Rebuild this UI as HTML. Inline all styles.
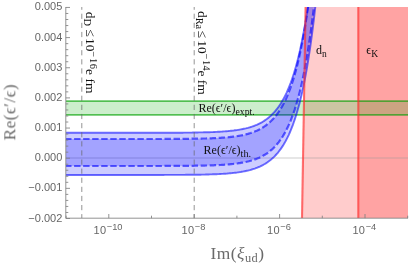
<!DOCTYPE html>
<html><head><meta charset="utf-8"><title>chart</title><style>
html,body{margin:0;padding:0;background:#fff;}
svg{display:block;will-change:transform}
.sans{font-family:"Liberation Sans",sans-serif;}
.serif{font-family:"Liberation Serif",serif;}
</style></head><body>
<svg width="409" height="266" viewBox="0 0 409 266">
<rect width="409" height="266" fill="#fff"/>
<defs><clipPath id="c"><rect x="65.8" y="7.0" width="342.2" height="211.2"/></clipPath></defs>
<g clip-path="url(#c)">
<!-- red fills -->
<path d="M305.6,7.0 L408.0,7.0 L408.0,218.2 L302,218.2Z" fill="#ff0000" fill-opacity="0.2"/>
<rect x="358.3" y="7.0" width="49.69999999999999" height="211.2" fill="#ff0000" fill-opacity="0.2"/>
<!-- zero line -->
<line x1="65.8" y1="158.0" x2="408.0" y2="158.0" stroke="#999" stroke-opacity="0.55" stroke-width="0.9"/>
<!-- green band -->
<rect x="65.8" y="101.1" width="342.2" height="13.7" fill="#00aa00" fill-opacity="0.2"/>
<line x1="65.8" y1="101.1" x2="408.0" y2="101.1" stroke="#00a000" stroke-opacity="0.62" stroke-width="1.7"/>
<line x1="65.8" y1="114.8" x2="408.0" y2="114.8" stroke="#00a000" stroke-opacity="0.62" stroke-width="1.7"/>
<!-- blue bands -->
<path d="M65.8,132.8 L66.8,132.8 L67.8,132.8 L68.8,132.8 L69.8,132.8 L70.8,132.8 L71.8,132.8 L72.8,132.8 L73.8,132.8 L74.8,132.8 L75.8,132.8 L76.8,132.8 L77.8,132.8 L78.8,132.8 L79.8,132.8 L80.8,132.8 L81.8,132.8 L82.8,132.8 L83.8,132.8 L84.8,132.8 L85.8,132.8 L86.8,132.8 L87.8,132.8 L88.8,132.8 L89.8,132.8 L90.8,132.8 L91.8,132.8 L92.8,132.8 L93.8,132.8 L94.8,132.8 L95.8,132.8 L96.8,132.8 L97.8,132.8 L98.8,132.8 L99.8,132.8 L100.8,132.8 L101.8,132.8 L102.8,132.8 L103.8,132.8 L104.8,132.8 L105.8,132.8 L106.8,132.8 L107.8,132.8 L108.8,132.8 L109.8,132.8 L110.8,132.8 L111.8,132.8 L112.8,132.8 L113.8,132.8 L114.8,132.8 L115.8,132.8 L116.8,132.8 L117.8,132.8 L118.8,132.8 L119.8,132.8 L120.8,132.8 L121.8,132.8 L122.8,132.8 L123.8,132.8 L124.8,132.8 L125.8,132.8 L126.8,132.8 L127.8,132.8 L128.8,132.8 L129.8,132.8 L130.8,132.8 L131.8,132.8 L132.8,132.8 L133.8,132.8 L134.8,132.8 L135.8,132.8 L136.8,132.8 L137.8,132.8 L138.8,132.8 L139.8,132.8 L140.8,132.8 L141.8,132.8 L142.8,132.8 L143.8,132.8 L144.8,132.8 L145.8,132.8 L146.8,132.8 L147.8,132.8 L148.8,132.8 L149.8,132.8 L150.8,132.8 L151.8,132.8 L152.8,132.8 L153.8,132.8 L154.8,132.8 L155.8,132.8 L156.8,132.8 L157.8,132.8 L158.8,132.8 L159.8,132.8 L160.8,132.8 L161.8,132.8 L162.8,132.7 L163.8,132.7 L164.8,132.7 L165.8,132.7 L166.8,132.7 L167.8,132.7 L168.8,132.7 L169.8,132.7 L170.8,132.7 L171.8,132.7 L172.8,132.7 L173.8,132.7 L174.8,132.7 L175.8,132.7 L176.8,132.7 L177.8,132.7 L178.8,132.7 L179.8,132.7 L180.8,132.7 L181.8,132.7 L182.8,132.7 L183.8,132.6 L184.8,132.6 L185.8,132.6 L186.8,132.6 L187.8,132.6 L188.8,132.6 L189.8,132.6 L190.8,132.6 L191.8,132.6 L192.8,132.5 L193.8,132.5 L194.8,132.5 L195.8,132.5 L196.8,132.5 L197.8,132.5 L198.8,132.4 L199.8,132.4 L200.8,132.4 L201.8,132.4 L202.8,132.4 L203.8,132.3 L204.8,132.3 L205.8,132.3 L206.8,132.3 L207.8,132.2 L208.8,132.2 L209.8,132.2 L210.8,132.1 L211.8,132.1 L212.8,132.1 L213.8,132.0 L214.8,132.0 L215.8,131.9 L216.8,131.9 L217.8,131.8 L218.8,131.8 L219.8,131.7 L220.8,131.6 L221.8,131.6 L222.8,131.5 L223.8,131.4 L224.8,131.4 L225.8,131.3 L226.8,131.2 L227.8,131.1 L228.8,131.0 L229.8,130.9 L230.8,130.8 L231.8,130.7 L232.8,130.6 L233.8,130.5 L234.8,130.3 L235.8,130.2 L236.8,130.1 L237.8,129.9 L238.8,129.8 L239.8,129.6 L240.8,129.4 L241.8,129.2 L242.8,129.0 L243.8,128.8 L244.8,128.6 L245.8,128.4 L246.8,128.1 L247.8,127.9 L248.8,127.6 L249.8,127.3 L250.8,127.0 L251.8,126.7 L252.8,126.3 L253.8,126.0 L254.8,125.6 L255.8,125.2 L256.8,124.8 L257.8,124.3 L258.8,123.8 L259.8,123.3 L260.8,122.8 L261.8,122.3 L262.8,121.7 L263.8,121.1 L264.8,120.4 L265.8,119.7 L266.8,119.0 L267.8,118.2 L268.8,117.4 L269.8,116.6 L270.8,115.7 L271.8,114.7 L272.8,113.7 L273.8,112.7 L274.8,111.6 L275.8,110.4 L276.8,109.2 L277.8,107.8 L278.8,106.5 L279.8,105.0 L280.8,103.5 L281.8,101.8 L282.8,100.1 L283.8,98.3 L284.8,96.4 L285.8,94.4 L286.8,92.3 L287.8,90.0 L288.8,87.6 L289.8,85.1 L290.8,82.5 L291.8,79.7 L292.8,76.8 L293.8,73.7 L294.8,70.4 L295.8,66.9 L296.8,63.3 L297.8,59.4 L298.8,55.4 L299.8,51.1 L300.8,46.5 L301.8,41.8 L302.8,36.7 L303.8,31.4 L304.8,25.8 L305.8,19.8 L306.8,13.6 L307.8,7.0 L308.8,0.0 L309.8,-7.3 L310.8,-15.1 L317.8,-17.2 L316.8,-7.1 L315.8,2.4 L314.8,11.5 L313.8,20.1 L312.8,28.2 L311.8,35.9 L310.8,43.2 L309.8,50.1 L308.8,56.7 L307.8,62.9 L306.8,68.8 L305.8,74.4 L304.8,79.6 L303.8,84.7 L302.8,89.4 L301.8,93.9 L300.8,98.1 L299.8,102.2 L298.8,106.0 L297.8,109.6 L296.8,113.1 L295.8,116.3 L294.8,119.4 L293.8,122.3 L292.8,125.1 L291.8,127.7 L290.8,130.2 L289.8,132.5 L288.8,134.8 L287.8,136.9 L286.8,138.9 L285.8,140.8 L284.8,142.6 L283.8,144.3 L282.8,145.9 L281.8,147.4 L280.8,148.9 L279.8,150.2 L278.8,151.5 L277.8,152.8 L276.8,153.9 L275.8,155.0 L274.8,156.1 L273.8,157.1 L272.8,158.0 L271.8,158.9 L270.8,159.8 L269.8,160.6 L268.8,161.3 L267.8,162.0 L266.8,162.7 L265.8,163.4 L264.8,164.0 L263.8,164.5 L262.8,165.1 L261.8,165.6 L260.8,166.1 L259.8,166.6 L258.8,167.0 L257.8,167.4 L256.8,167.8 L255.8,168.2 L254.8,168.6 L253.8,168.9 L252.8,169.2 L251.8,169.5 L250.8,169.8 L249.8,170.1 L248.8,170.3 L247.8,170.6 L246.8,170.8 L245.8,171.0 L244.8,171.2 L243.8,171.4 L242.8,171.6 L241.8,171.8 L240.8,172.0 L239.8,172.1 L238.8,172.3 L237.8,172.4 L236.8,172.6 L235.8,172.7 L234.8,172.8 L233.8,172.9 L232.8,173.0 L231.8,173.1 L230.8,173.2 L229.8,173.3 L228.8,173.4 L227.8,173.5 L226.8,173.6 L225.8,173.7 L224.8,173.7 L223.8,173.8 L222.8,173.9 L221.8,173.9 L220.8,174.0 L219.8,174.0 L218.8,174.1 L217.8,174.1 L216.8,174.2 L215.8,174.2 L214.8,174.3 L213.8,174.3 L212.8,174.3 L211.8,174.4 L210.8,174.4 L209.8,174.4 L208.8,174.5 L207.8,174.5 L206.8,174.5 L205.8,174.5 L204.8,174.6 L203.8,174.6 L202.8,174.6 L201.8,174.6 L200.8,174.7 L199.8,174.7 L198.8,174.7 L197.8,174.7 L196.8,174.7 L195.8,174.7 L194.8,174.7 L193.8,174.8 L192.8,174.8 L191.8,174.8 L190.8,174.8 L189.8,174.8 L188.8,174.8 L187.8,174.8 L186.8,174.8 L185.8,174.8 L184.8,174.9 L183.8,174.9 L182.8,174.9 L181.8,174.9 L180.8,174.9 L179.8,174.9 L178.8,174.9 L177.8,174.9 L176.8,174.9 L175.8,174.9 L174.8,174.9 L173.8,174.9 L172.8,174.9 L171.8,174.9 L170.8,174.9 L169.8,174.9 L168.8,174.9 L167.8,174.9 L166.8,174.9 L165.8,174.9 L164.8,174.9 L163.8,175.0 L162.8,175.0 L161.8,175.0 L160.8,175.0 L159.8,175.0 L158.8,175.0 L157.8,175.0 L156.8,175.0 L155.8,175.0 L154.8,175.0 L153.8,175.0 L152.8,175.0 L151.8,175.0 L150.8,175.0 L149.8,175.0 L148.8,175.0 L147.8,175.0 L146.8,175.0 L145.8,175.0 L144.8,175.0 L143.8,175.0 L142.8,175.0 L141.8,175.0 L140.8,175.0 L139.8,175.0 L138.8,175.0 L137.8,175.0 L136.8,175.0 L135.8,175.0 L134.8,175.0 L133.8,175.0 L132.8,175.0 L131.8,175.0 L130.8,175.0 L129.8,175.0 L128.8,175.0 L127.8,175.0 L126.8,175.0 L125.8,175.0 L124.8,175.0 L123.8,175.0 L122.8,175.0 L121.8,175.0 L120.8,175.0 L119.8,175.0 L118.8,175.0 L117.8,175.0 L116.8,175.0 L115.8,175.0 L114.8,175.0 L113.8,175.0 L112.8,175.0 L111.8,175.0 L110.8,175.0 L109.8,175.0 L108.8,175.0 L107.8,175.0 L106.8,175.0 L105.8,175.0 L104.8,175.0 L103.8,175.0 L102.8,175.0 L101.8,175.0 L100.8,175.0 L99.8,175.0 L98.8,175.0 L97.8,175.0 L96.8,175.0 L95.8,175.0 L94.8,175.0 L93.8,175.0 L92.8,175.0 L91.8,175.0 L90.8,175.0 L89.8,175.0 L88.8,175.0 L87.8,175.0 L86.8,175.0 L85.8,175.0 L84.8,175.0 L83.8,175.0 L82.8,175.0 L81.8,175.0 L80.8,175.0 L79.8,175.0 L78.8,175.0 L77.8,175.0 L76.8,175.0 L75.8,175.0 L74.8,175.0 L73.8,175.0 L72.8,175.0 L71.8,175.0 L70.8,175.0 L69.8,175.0 L68.8,175.0 L67.8,175.0 L66.8,175.0 L65.8,175.0Z" fill="#0000ff" fill-opacity="0.2"/>
<path d="M65.8,139.0 L66.8,139.0 L67.8,139.0 L68.8,139.0 L69.8,139.0 L70.8,139.0 L71.8,139.0 L72.8,139.0 L73.8,139.0 L74.8,139.0 L75.8,139.0 L76.8,139.0 L77.8,139.0 L78.8,139.0 L79.8,139.0 L80.8,139.0 L81.8,139.0 L82.8,139.0 L83.8,139.0 L84.8,139.0 L85.8,139.0 L86.8,139.0 L87.8,139.0 L88.8,139.0 L89.8,139.0 L90.8,139.0 L91.8,139.0 L92.8,139.0 L93.8,139.0 L94.8,139.0 L95.8,139.0 L96.8,139.0 L97.8,139.0 L98.8,139.0 L99.8,139.0 L100.8,139.0 L101.8,139.0 L102.8,139.0 L103.8,139.0 L104.8,139.0 L105.8,139.0 L106.8,139.0 L107.8,139.0 L108.8,139.0 L109.8,139.0 L110.8,139.0 L111.8,139.0 L112.8,139.0 L113.8,139.0 L114.8,139.0 L115.8,139.0 L116.8,139.0 L117.8,139.0 L118.8,139.0 L119.8,139.0 L120.8,139.0 L121.8,139.0 L122.8,139.0 L123.8,139.0 L124.8,139.0 L125.8,139.0 L126.8,139.0 L127.8,139.0 L128.8,139.0 L129.8,139.0 L130.8,139.0 L131.8,139.0 L132.8,139.0 L133.8,139.0 L134.8,139.0 L135.8,139.0 L136.8,139.0 L137.8,139.0 L138.8,139.0 L139.8,139.0 L140.8,139.0 L141.8,139.0 L142.8,139.0 L143.8,139.0 L144.8,139.0 L145.8,139.0 L146.8,139.0 L147.8,139.0 L148.8,139.0 L149.8,139.0 L150.8,139.0 L151.8,139.0 L152.8,139.0 L153.8,139.0 L154.8,139.0 L155.8,139.0 L156.8,139.0 L157.8,139.0 L158.8,139.0 L159.8,139.0 L160.8,139.0 L161.8,139.0 L162.8,138.9 L163.8,138.9 L164.8,138.9 L165.8,138.9 L166.8,138.9 L167.8,138.9 L168.8,138.9 L169.8,138.9 L170.8,138.9 L171.8,138.9 L172.8,138.9 L173.8,138.9 L174.8,138.9 L175.8,138.9 L176.8,138.9 L177.8,138.9 L178.8,138.9 L179.8,138.9 L180.8,138.9 L181.8,138.9 L182.8,138.8 L183.8,138.8 L184.8,138.8 L185.8,138.8 L186.8,138.8 L187.8,138.8 L188.8,138.8 L189.8,138.8 L190.8,138.8 L191.8,138.7 L192.8,138.7 L193.8,138.7 L194.8,138.7 L195.8,138.7 L196.8,138.7 L197.8,138.7 L198.8,138.6 L199.8,138.6 L200.8,138.6 L201.8,138.6 L202.8,138.5 L203.8,138.5 L204.8,138.5 L205.8,138.5 L206.8,138.4 L207.8,138.4 L208.8,138.4 L209.8,138.3 L210.8,138.3 L211.8,138.3 L212.8,138.2 L213.8,138.2 L214.8,138.1 L215.8,138.1 L216.8,138.0 L217.8,138.0 L218.8,137.9 L219.8,137.9 L220.8,137.8 L221.8,137.7 L222.8,137.7 L223.8,137.6 L224.8,137.5 L225.8,137.4 L226.8,137.3 L227.8,137.3 L228.8,137.2 L229.8,137.1 L230.8,136.9 L231.8,136.8 L232.8,136.7 L233.8,136.6 L234.8,136.5 L235.8,136.3 L236.8,136.2 L237.8,136.0 L238.8,135.8 L239.8,135.7 L240.8,135.5 L241.8,135.3 L242.8,135.1 L243.8,134.9 L244.8,134.6 L245.8,134.4 L246.8,134.1 L247.8,133.9 L248.8,133.6 L249.8,133.3 L250.8,133.0 L251.8,132.6 L252.8,132.3 L253.8,131.9 L254.8,131.5 L255.8,131.1 L256.8,130.7 L257.8,130.2 L258.8,129.7 L259.8,129.2 L260.8,128.7 L261.8,128.1 L262.8,127.5 L263.8,126.8 L264.8,126.2 L265.8,125.5 L266.8,124.7 L267.8,123.9 L268.8,123.1 L269.8,122.2 L270.8,121.3 L271.8,120.3 L272.8,119.2 L273.8,118.2 L274.8,117.0 L275.8,115.8 L276.8,114.5 L277.8,113.1 L278.8,111.7 L279.8,110.2 L280.8,108.6 L281.8,106.9 L282.8,105.1 L283.8,103.3 L284.8,101.3 L285.8,99.2 L286.8,97.0 L287.8,94.7 L288.8,92.2 L289.8,89.6 L290.8,86.9 L291.8,84.0 L292.8,80.9 L293.8,77.7 L294.8,74.3 L295.8,70.7 L296.8,66.9 L297.8,63.0 L298.8,58.7 L299.8,54.3 L300.8,49.6 L301.8,44.6 L302.8,39.4 L303.8,33.9 L304.8,28.1 L305.8,21.9 L306.8,15.4 L307.8,8.6 L308.8,1.4 L309.8,-6.2 L310.8,-14.3 L316.8,-19.8 L315.8,-10.1 L314.8,-0.8 L313.8,7.9 L312.8,16.2 L311.8,24.1 L310.8,31.5 L309.8,38.6 L308.8,45.3 L307.8,51.6 L306.8,57.6 L305.8,63.3 L304.8,68.7 L303.8,73.8 L302.8,78.6 L301.8,83.2 L300.8,87.6 L299.8,91.7 L298.8,95.6 L297.8,99.3 L296.8,102.8 L295.8,106.1 L294.8,109.3 L293.8,112.2 L292.8,115.1 L291.8,117.7 L290.8,120.3 L289.8,122.7 L288.8,124.9 L287.8,127.1 L286.8,129.1 L285.8,131.1 L284.8,132.9 L283.8,134.6 L282.8,136.3 L281.8,137.9 L280.8,139.3 L279.8,140.7 L278.8,142.1 L277.8,143.3 L276.8,144.5 L275.8,145.6 L274.8,146.7 L273.8,147.7 L272.8,148.7 L271.8,149.6 L270.8,150.4 L269.8,151.3 L268.8,152.0 L267.8,152.8 L266.8,153.5 L265.8,154.1 L264.8,154.7 L263.8,155.3 L262.8,155.9 L261.8,156.4 L260.8,156.9 L259.8,157.4 L258.8,157.9 L257.8,158.3 L256.8,158.7 L255.8,159.1 L254.8,159.4 L253.8,159.8 L252.8,160.1 L251.8,160.4 L250.8,160.7 L249.8,161.0 L248.8,161.3 L247.8,161.5 L246.8,161.7 L245.8,162.0 L244.8,162.2 L243.8,162.4 L242.8,162.6 L241.8,162.7 L240.8,162.9 L239.8,163.1 L238.8,163.2 L237.8,163.4 L236.8,163.5 L235.8,163.6 L234.8,163.8 L233.8,163.9 L232.8,164.0 L231.8,164.1 L230.8,164.2 L229.8,164.3 L228.8,164.4 L227.8,164.5 L226.8,164.5 L225.8,164.6 L224.8,164.7 L223.8,164.8 L222.8,164.8 L221.8,164.9 L220.8,165.0 L219.8,165.0 L218.8,165.1 L217.8,165.1 L216.8,165.2 L215.8,165.2 L214.8,165.2 L213.8,165.3 L212.8,165.3 L211.8,165.4 L210.8,165.4 L209.8,165.4 L208.8,165.5 L207.8,165.5 L206.8,165.5 L205.8,165.5 L204.8,165.6 L203.8,165.6 L202.8,165.6 L201.8,165.6 L200.8,165.6 L199.8,165.7 L198.8,165.7 L197.8,165.7 L196.8,165.7 L195.8,165.7 L194.8,165.7 L193.8,165.8 L192.8,165.8 L191.8,165.8 L190.8,165.8 L189.8,165.8 L188.8,165.8 L187.8,165.8 L186.8,165.8 L185.8,165.8 L184.8,165.8 L183.8,165.9 L182.8,165.9 L181.8,165.9 L180.8,165.9 L179.8,165.9 L178.8,165.9 L177.8,165.9 L176.8,165.9 L175.8,165.9 L174.8,165.9 L173.8,165.9 L172.8,165.9 L171.8,165.9 L170.8,165.9 L169.8,165.9 L168.8,165.9 L167.8,165.9 L166.8,165.9 L165.8,165.9 L164.8,165.9 L163.8,166.0 L162.8,166.0 L161.8,166.0 L160.8,166.0 L159.8,166.0 L158.8,166.0 L157.8,166.0 L156.8,166.0 L155.8,166.0 L154.8,166.0 L153.8,166.0 L152.8,166.0 L151.8,166.0 L150.8,166.0 L149.8,166.0 L148.8,166.0 L147.8,166.0 L146.8,166.0 L145.8,166.0 L144.8,166.0 L143.8,166.0 L142.8,166.0 L141.8,166.0 L140.8,166.0 L139.8,166.0 L138.8,166.0 L137.8,166.0 L136.8,166.0 L135.8,166.0 L134.8,166.0 L133.8,166.0 L132.8,166.0 L131.8,166.0 L130.8,166.0 L129.8,166.0 L128.8,166.0 L127.8,166.0 L126.8,166.0 L125.8,166.0 L124.8,166.0 L123.8,166.0 L122.8,166.0 L121.8,166.0 L120.8,166.0 L119.8,166.0 L118.8,166.0 L117.8,166.0 L116.8,166.0 L115.8,166.0 L114.8,166.0 L113.8,166.0 L112.8,166.0 L111.8,166.0 L110.8,166.0 L109.8,166.0 L108.8,166.0 L107.8,166.0 L106.8,166.0 L105.8,166.0 L104.8,166.0 L103.8,166.0 L102.8,166.0 L101.8,166.0 L100.8,166.0 L99.8,166.0 L98.8,166.0 L97.8,166.0 L96.8,166.0 L95.8,166.0 L94.8,166.0 L93.8,166.0 L92.8,166.0 L91.8,166.0 L90.8,166.0 L89.8,166.0 L88.8,166.0 L87.8,166.0 L86.8,166.0 L85.8,166.0 L84.8,166.0 L83.8,166.0 L82.8,166.0 L81.8,166.0 L80.8,166.0 L79.8,166.0 L78.8,166.0 L77.8,166.0 L76.8,166.0 L75.8,166.0 L74.8,166.0 L73.8,166.0 L72.8,166.0 L71.8,166.0 L70.8,166.0 L69.8,166.0 L68.8,166.0 L67.8,166.0 L66.8,166.0 L65.8,166.0Z" fill="#0000ff" fill-opacity="0.2"/>
<path d="M65.8,132.8 L66.8,132.8 L67.8,132.8 L68.8,132.8 L69.8,132.8 L70.8,132.8 L71.8,132.8 L72.8,132.8 L73.8,132.8 L74.8,132.8 L75.8,132.8 L76.8,132.8 L77.8,132.8 L78.8,132.8 L79.8,132.8 L80.8,132.8 L81.8,132.8 L82.8,132.8 L83.8,132.8 L84.8,132.8 L85.8,132.8 L86.8,132.8 L87.8,132.8 L88.8,132.8 L89.8,132.8 L90.8,132.8 L91.8,132.8 L92.8,132.8 L93.8,132.8 L94.8,132.8 L95.8,132.8 L96.8,132.8 L97.8,132.8 L98.8,132.8 L99.8,132.8 L100.8,132.8 L101.8,132.8 L102.8,132.8 L103.8,132.8 L104.8,132.8 L105.8,132.8 L106.8,132.8 L107.8,132.8 L108.8,132.8 L109.8,132.8 L110.8,132.8 L111.8,132.8 L112.8,132.8 L113.8,132.8 L114.8,132.8 L115.8,132.8 L116.8,132.8 L117.8,132.8 L118.8,132.8 L119.8,132.8 L120.8,132.8 L121.8,132.8 L122.8,132.8 L123.8,132.8 L124.8,132.8 L125.8,132.8 L126.8,132.8 L127.8,132.8 L128.8,132.8 L129.8,132.8 L130.8,132.8 L131.8,132.8 L132.8,132.8 L133.8,132.8 L134.8,132.8 L135.8,132.8 L136.8,132.8 L137.8,132.8 L138.8,132.8 L139.8,132.8 L140.8,132.8 L141.8,132.8 L142.8,132.8 L143.8,132.8 L144.8,132.8 L145.8,132.8 L146.8,132.8 L147.8,132.8 L148.8,132.8 L149.8,132.8 L150.8,132.8 L151.8,132.8 L152.8,132.8 L153.8,132.8 L154.8,132.8 L155.8,132.8 L156.8,132.8 L157.8,132.8 L158.8,132.8 L159.8,132.8 L160.8,132.8 L161.8,132.8 L162.8,132.7 L163.8,132.7 L164.8,132.7 L165.8,132.7 L166.8,132.7 L167.8,132.7 L168.8,132.7 L169.8,132.7 L170.8,132.7 L171.8,132.7 L172.8,132.7 L173.8,132.7 L174.8,132.7 L175.8,132.7 L176.8,132.7 L177.8,132.7 L178.8,132.7 L179.8,132.7 L180.8,132.7 L181.8,132.7 L182.8,132.7 L183.8,132.6 L184.8,132.6 L185.8,132.6 L186.8,132.6 L187.8,132.6 L188.8,132.6 L189.8,132.6 L190.8,132.6 L191.8,132.6 L192.8,132.5 L193.8,132.5 L194.8,132.5 L195.8,132.5 L196.8,132.5 L197.8,132.5 L198.8,132.4 L199.8,132.4 L200.8,132.4 L201.8,132.4 L202.8,132.4 L203.8,132.3 L204.8,132.3 L205.8,132.3 L206.8,132.3 L207.8,132.2 L208.8,132.2 L209.8,132.2 L210.8,132.1 L211.8,132.1 L212.8,132.1 L213.8,132.0 L214.8,132.0 L215.8,131.9 L216.8,131.9 L217.8,131.8 L218.8,131.8 L219.8,131.7 L220.8,131.6 L221.8,131.6 L222.8,131.5 L223.8,131.4 L224.8,131.4 L225.8,131.3 L226.8,131.2 L227.8,131.1 L228.8,131.0 L229.8,130.9 L230.8,130.8 L231.8,130.7 L232.8,130.6 L233.8,130.5 L234.8,130.3 L235.8,130.2 L236.8,130.1 L237.8,129.9 L238.8,129.8 L239.8,129.6 L240.8,129.4 L241.8,129.2 L242.8,129.0 L243.8,128.8 L244.8,128.6 L245.8,128.4 L246.8,128.1 L247.8,127.9 L248.8,127.6 L249.8,127.3 L250.8,127.0 L251.8,126.7 L252.8,126.3 L253.8,126.0 L254.8,125.6 L255.8,125.2 L256.8,124.8 L257.8,124.3 L258.8,123.8 L259.8,123.3 L260.8,122.8 L261.8,122.3 L262.8,121.7 L263.8,121.1 L264.8,120.4 L265.8,119.7 L266.8,119.0 L267.8,118.2 L268.8,117.4 L269.8,116.6 L270.8,115.7 L271.8,114.7 L272.8,113.7 L273.8,112.7 L274.8,111.6 L275.8,110.4 L276.8,109.2 L277.8,107.8 L278.8,106.5 L279.8,105.0 L280.8,103.5 L281.8,101.8 L282.8,100.1 L283.8,98.3 L284.8,96.4 L285.8,94.4 L286.8,92.3 L287.8,90.0 L288.8,87.6 L289.8,85.1 L290.8,82.5 L291.8,79.7 L292.8,76.8 L293.8,73.7 L294.8,70.4 L295.8,66.9 L296.8,63.3 L297.8,59.4 L298.8,55.4 L299.8,51.1 L300.8,46.5 L301.8,41.8 L302.8,36.7 L303.8,31.4 L304.8,25.8 L305.8,19.8 L306.8,13.6 L307.8,7.0 L308.8,0.0 L309.8,-7.3 L310.8,-15.1" fill="none" stroke="#0000ff" stroke-opacity="0.56" stroke-width="1.9"/>
<path d="M65.8,175.0 L66.8,175.0 L67.8,175.0 L68.8,175.0 L69.8,175.0 L70.8,175.0 L71.8,175.0 L72.8,175.0 L73.8,175.0 L74.8,175.0 L75.8,175.0 L76.8,175.0 L77.8,175.0 L78.8,175.0 L79.8,175.0 L80.8,175.0 L81.8,175.0 L82.8,175.0 L83.8,175.0 L84.8,175.0 L85.8,175.0 L86.8,175.0 L87.8,175.0 L88.8,175.0 L89.8,175.0 L90.8,175.0 L91.8,175.0 L92.8,175.0 L93.8,175.0 L94.8,175.0 L95.8,175.0 L96.8,175.0 L97.8,175.0 L98.8,175.0 L99.8,175.0 L100.8,175.0 L101.8,175.0 L102.8,175.0 L103.8,175.0 L104.8,175.0 L105.8,175.0 L106.8,175.0 L107.8,175.0 L108.8,175.0 L109.8,175.0 L110.8,175.0 L111.8,175.0 L112.8,175.0 L113.8,175.0 L114.8,175.0 L115.8,175.0 L116.8,175.0 L117.8,175.0 L118.8,175.0 L119.8,175.0 L120.8,175.0 L121.8,175.0 L122.8,175.0 L123.8,175.0 L124.8,175.0 L125.8,175.0 L126.8,175.0 L127.8,175.0 L128.8,175.0 L129.8,175.0 L130.8,175.0 L131.8,175.0 L132.8,175.0 L133.8,175.0 L134.8,175.0 L135.8,175.0 L136.8,175.0 L137.8,175.0 L138.8,175.0 L139.8,175.0 L140.8,175.0 L141.8,175.0 L142.8,175.0 L143.8,175.0 L144.8,175.0 L145.8,175.0 L146.8,175.0 L147.8,175.0 L148.8,175.0 L149.8,175.0 L150.8,175.0 L151.8,175.0 L152.8,175.0 L153.8,175.0 L154.8,175.0 L155.8,175.0 L156.8,175.0 L157.8,175.0 L158.8,175.0 L159.8,175.0 L160.8,175.0 L161.8,175.0 L162.8,175.0 L163.8,175.0 L164.8,174.9 L165.8,174.9 L166.8,174.9 L167.8,174.9 L168.8,174.9 L169.8,174.9 L170.8,174.9 L171.8,174.9 L172.8,174.9 L173.8,174.9 L174.8,174.9 L175.8,174.9 L176.8,174.9 L177.8,174.9 L178.8,174.9 L179.8,174.9 L180.8,174.9 L181.8,174.9 L182.8,174.9 L183.8,174.9 L184.8,174.9 L185.8,174.8 L186.8,174.8 L187.8,174.8 L188.8,174.8 L189.8,174.8 L190.8,174.8 L191.8,174.8 L192.8,174.8 L193.8,174.8 L194.8,174.7 L195.8,174.7 L196.8,174.7 L197.8,174.7 L198.8,174.7 L199.8,174.7 L200.8,174.7 L201.8,174.6 L202.8,174.6 L203.8,174.6 L204.8,174.6 L205.8,174.5 L206.8,174.5 L207.8,174.5 L208.8,174.5 L209.8,174.4 L210.8,174.4 L211.8,174.4 L212.8,174.3 L213.8,174.3 L214.8,174.3 L215.8,174.2 L216.8,174.2 L217.8,174.1 L218.8,174.1 L219.8,174.0 L220.8,174.0 L221.8,173.9 L222.8,173.9 L223.8,173.8 L224.8,173.7 L225.8,173.7 L226.8,173.6 L227.8,173.5 L228.8,173.4 L229.8,173.3 L230.8,173.2 L231.8,173.1 L232.8,173.0 L233.8,172.9 L234.8,172.8 L235.8,172.7 L236.8,172.6 L237.8,172.4 L238.8,172.3 L239.8,172.1 L240.8,172.0 L241.8,171.8 L242.8,171.6 L243.8,171.4 L244.8,171.2 L245.8,171.0 L246.8,170.8 L247.8,170.6 L248.8,170.3 L249.8,170.1 L250.8,169.8 L251.8,169.5 L252.8,169.2 L253.8,168.9 L254.8,168.6 L255.8,168.2 L256.8,167.8 L257.8,167.4 L258.8,167.0 L259.8,166.6 L260.8,166.1 L261.8,165.6 L262.8,165.1 L263.8,164.5 L264.8,164.0 L265.8,163.4 L266.8,162.7 L267.8,162.0 L268.8,161.3 L269.8,160.6 L270.8,159.8 L271.8,158.9 L272.8,158.0 L273.8,157.1 L274.8,156.1 L275.8,155.0 L276.8,153.9 L277.8,152.8 L278.8,151.5 L279.8,150.2 L280.8,148.9 L281.8,147.4 L282.8,145.9 L283.8,144.3 L284.8,142.6 L285.8,140.8 L286.8,138.9 L287.8,136.9 L288.8,134.8 L289.8,132.5 L290.8,130.2 L291.8,127.7 L292.8,125.1 L293.8,122.3 L294.8,119.4 L295.8,116.3 L296.8,113.1 L297.8,109.6 L298.8,106.0 L299.8,102.2 L300.8,98.1 L301.8,93.9 L302.8,89.4 L303.8,84.7 L304.8,79.6 L305.8,74.4 L306.8,68.8 L307.8,62.9 L308.8,56.7 L309.8,50.1 L310.8,43.2 L311.8,35.9 L312.8,28.2 L313.8,20.1 L314.8,11.5 L315.8,2.4 L316.8,-7.1 L317.8,-17.2" fill="none" stroke="#0000ff" stroke-opacity="0.56" stroke-width="1.9"/>
<path d="M65.8,139.0 L66.8,139.0 L67.8,139.0 L68.8,139.0 L69.8,139.0 L70.8,139.0 L71.8,139.0 L72.8,139.0 L73.8,139.0 L74.8,139.0 L75.8,139.0 L76.8,139.0 L77.8,139.0 L78.8,139.0 L79.8,139.0 L80.8,139.0 L81.8,139.0 L82.8,139.0 L83.8,139.0 L84.8,139.0 L85.8,139.0 L86.8,139.0 L87.8,139.0 L88.8,139.0 L89.8,139.0 L90.8,139.0 L91.8,139.0 L92.8,139.0 L93.8,139.0 L94.8,139.0 L95.8,139.0 L96.8,139.0 L97.8,139.0 L98.8,139.0 L99.8,139.0 L100.8,139.0 L101.8,139.0 L102.8,139.0 L103.8,139.0 L104.8,139.0 L105.8,139.0 L106.8,139.0 L107.8,139.0 L108.8,139.0 L109.8,139.0 L110.8,139.0 L111.8,139.0 L112.8,139.0 L113.8,139.0 L114.8,139.0 L115.8,139.0 L116.8,139.0 L117.8,139.0 L118.8,139.0 L119.8,139.0 L120.8,139.0 L121.8,139.0 L122.8,139.0 L123.8,139.0 L124.8,139.0 L125.8,139.0 L126.8,139.0 L127.8,139.0 L128.8,139.0 L129.8,139.0 L130.8,139.0 L131.8,139.0 L132.8,139.0 L133.8,139.0 L134.8,139.0 L135.8,139.0 L136.8,139.0 L137.8,139.0 L138.8,139.0 L139.8,139.0 L140.8,139.0 L141.8,139.0 L142.8,139.0 L143.8,139.0 L144.8,139.0 L145.8,139.0 L146.8,139.0 L147.8,139.0 L148.8,139.0 L149.8,139.0 L150.8,139.0 L151.8,139.0 L152.8,139.0 L153.8,139.0 L154.8,139.0 L155.8,139.0 L156.8,139.0 L157.8,139.0 L158.8,139.0 L159.8,139.0 L160.8,139.0 L161.8,139.0 L162.8,138.9 L163.8,138.9 L164.8,138.9 L165.8,138.9 L166.8,138.9 L167.8,138.9 L168.8,138.9 L169.8,138.9 L170.8,138.9 L171.8,138.9 L172.8,138.9 L173.8,138.9 L174.8,138.9 L175.8,138.9 L176.8,138.9 L177.8,138.9 L178.8,138.9 L179.8,138.9 L180.8,138.9 L181.8,138.9 L182.8,138.8 L183.8,138.8 L184.8,138.8 L185.8,138.8 L186.8,138.8 L187.8,138.8 L188.8,138.8 L189.8,138.8 L190.8,138.8 L191.8,138.7 L192.8,138.7 L193.8,138.7 L194.8,138.7 L195.8,138.7 L196.8,138.7 L197.8,138.7 L198.8,138.6 L199.8,138.6 L200.8,138.6 L201.8,138.6 L202.8,138.5 L203.8,138.5 L204.8,138.5 L205.8,138.5 L206.8,138.4 L207.8,138.4 L208.8,138.4 L209.8,138.3 L210.8,138.3 L211.8,138.3 L212.8,138.2 L213.8,138.2 L214.8,138.1 L215.8,138.1 L216.8,138.0 L217.8,138.0 L218.8,137.9 L219.8,137.9 L220.8,137.8 L221.8,137.7 L222.8,137.7 L223.8,137.6 L224.8,137.5 L225.8,137.4 L226.8,137.3 L227.8,137.3 L228.8,137.2 L229.8,137.1 L230.8,136.9 L231.8,136.8 L232.8,136.7 L233.8,136.6 L234.8,136.5 L235.8,136.3 L236.8,136.2 L237.8,136.0 L238.8,135.8 L239.8,135.7 L240.8,135.5 L241.8,135.3 L242.8,135.1 L243.8,134.9 L244.8,134.6 L245.8,134.4 L246.8,134.1 L247.8,133.9 L248.8,133.6 L249.8,133.3 L250.8,133.0 L251.8,132.6 L252.8,132.3 L253.8,131.9 L254.8,131.5 L255.8,131.1 L256.8,130.7 L257.8,130.2 L258.8,129.7 L259.8,129.2 L260.8,128.7 L261.8,128.1 L262.8,127.5 L263.8,126.8 L264.8,126.2 L265.8,125.5 L266.8,124.7 L267.8,123.9 L268.8,123.1 L269.8,122.2 L270.8,121.3 L271.8,120.3 L272.8,119.2 L273.8,118.2 L274.8,117.0 L275.8,115.8 L276.8,114.5 L277.8,113.1 L278.8,111.7 L279.8,110.2 L280.8,108.6 L281.8,106.9 L282.8,105.1 L283.8,103.3 L284.8,101.3 L285.8,99.2 L286.8,97.0 L287.8,94.7 L288.8,92.2 L289.8,89.6 L290.8,86.9 L291.8,84.0 L292.8,80.9 L293.8,77.7 L294.8,74.3 L295.8,70.7 L296.8,66.9 L297.8,63.0 L298.8,58.7 L299.8,54.3 L300.8,49.6 L301.8,44.6 L302.8,39.4 L303.8,33.9 L304.8,28.1 L305.8,21.9 L306.8,15.4 L307.8,8.6 L308.8,1.4 L309.8,-6.2 L310.8,-14.3" fill="none" stroke="#0000ff" stroke-opacity="0.58" stroke-width="2.2" stroke-dasharray="6.44 2.6" stroke-dashoffset="-8.3"/>
<path d="M65.8,166.0 L66.8,166.0 L67.8,166.0 L68.8,166.0 L69.8,166.0 L70.8,166.0 L71.8,166.0 L72.8,166.0 L73.8,166.0 L74.8,166.0 L75.8,166.0 L76.8,166.0 L77.8,166.0 L78.8,166.0 L79.8,166.0 L80.8,166.0 L81.8,166.0 L82.8,166.0 L83.8,166.0 L84.8,166.0 L85.8,166.0 L86.8,166.0 L87.8,166.0 L88.8,166.0 L89.8,166.0 L90.8,166.0 L91.8,166.0 L92.8,166.0 L93.8,166.0 L94.8,166.0 L95.8,166.0 L96.8,166.0 L97.8,166.0 L98.8,166.0 L99.8,166.0 L100.8,166.0 L101.8,166.0 L102.8,166.0 L103.8,166.0 L104.8,166.0 L105.8,166.0 L106.8,166.0 L107.8,166.0 L108.8,166.0 L109.8,166.0 L110.8,166.0 L111.8,166.0 L112.8,166.0 L113.8,166.0 L114.8,166.0 L115.8,166.0 L116.8,166.0 L117.8,166.0 L118.8,166.0 L119.8,166.0 L120.8,166.0 L121.8,166.0 L122.8,166.0 L123.8,166.0 L124.8,166.0 L125.8,166.0 L126.8,166.0 L127.8,166.0 L128.8,166.0 L129.8,166.0 L130.8,166.0 L131.8,166.0 L132.8,166.0 L133.8,166.0 L134.8,166.0 L135.8,166.0 L136.8,166.0 L137.8,166.0 L138.8,166.0 L139.8,166.0 L140.8,166.0 L141.8,166.0 L142.8,166.0 L143.8,166.0 L144.8,166.0 L145.8,166.0 L146.8,166.0 L147.8,166.0 L148.8,166.0 L149.8,166.0 L150.8,166.0 L151.8,166.0 L152.8,166.0 L153.8,166.0 L154.8,166.0 L155.8,166.0 L156.8,166.0 L157.8,166.0 L158.8,166.0 L159.8,166.0 L160.8,166.0 L161.8,166.0 L162.8,166.0 L163.8,166.0 L164.8,165.9 L165.8,165.9 L166.8,165.9 L167.8,165.9 L168.8,165.9 L169.8,165.9 L170.8,165.9 L171.8,165.9 L172.8,165.9 L173.8,165.9 L174.8,165.9 L175.8,165.9 L176.8,165.9 L177.8,165.9 L178.8,165.9 L179.8,165.9 L180.8,165.9 L181.8,165.9 L182.8,165.9 L183.8,165.9 L184.8,165.8 L185.8,165.8 L186.8,165.8 L187.8,165.8 L188.8,165.8 L189.8,165.8 L190.8,165.8 L191.8,165.8 L192.8,165.8 L193.8,165.8 L194.8,165.7 L195.8,165.7 L196.8,165.7 L197.8,165.7 L198.8,165.7 L199.8,165.7 L200.8,165.6 L201.8,165.6 L202.8,165.6 L203.8,165.6 L204.8,165.6 L205.8,165.5 L206.8,165.5 L207.8,165.5 L208.8,165.5 L209.8,165.4 L210.8,165.4 L211.8,165.4 L212.8,165.3 L213.8,165.3 L214.8,165.2 L215.8,165.2 L216.8,165.2 L217.8,165.1 L218.8,165.1 L219.8,165.0 L220.8,165.0 L221.8,164.9 L222.8,164.8 L223.8,164.8 L224.8,164.7 L225.8,164.6 L226.8,164.5 L227.8,164.5 L228.8,164.4 L229.8,164.3 L230.8,164.2 L231.8,164.1 L232.8,164.0 L233.8,163.9 L234.8,163.8 L235.8,163.6 L236.8,163.5 L237.8,163.4 L238.8,163.2 L239.8,163.1 L240.8,162.9 L241.8,162.7 L242.8,162.6 L243.8,162.4 L244.8,162.2 L245.8,162.0 L246.8,161.7 L247.8,161.5 L248.8,161.3 L249.8,161.0 L250.8,160.7 L251.8,160.4 L252.8,160.1 L253.8,159.8 L254.8,159.4 L255.8,159.1 L256.8,158.7 L257.8,158.3 L258.8,157.9 L259.8,157.4 L260.8,156.9 L261.8,156.4 L262.8,155.9 L263.8,155.3 L264.8,154.7 L265.8,154.1 L266.8,153.5 L267.8,152.8 L268.8,152.0 L269.8,151.3 L270.8,150.4 L271.8,149.6 L272.8,148.7 L273.8,147.7 L274.8,146.7 L275.8,145.6 L276.8,144.5 L277.8,143.3 L278.8,142.1 L279.8,140.7 L280.8,139.3 L281.8,137.9 L282.8,136.3 L283.8,134.6 L284.8,132.9 L285.8,131.1 L286.8,129.1 L287.8,127.1 L288.8,124.9 L289.8,122.7 L290.8,120.3 L291.8,117.7 L292.8,115.1 L293.8,112.2 L294.8,109.3 L295.8,106.1 L296.8,102.8 L297.8,99.3 L298.8,95.6 L299.8,91.7 L300.8,87.6 L301.8,83.2 L302.8,78.6 L303.8,73.8 L304.8,68.7 L305.8,63.3 L306.8,57.6 L307.8,51.6 L308.8,45.3 L309.8,38.6 L310.8,31.5 L311.8,24.1 L312.8,16.2 L313.8,7.9 L314.8,-0.8 L315.8,-10.1 L316.8,-19.8" fill="none" stroke="#0000ff" stroke-opacity="0.58" stroke-width="2.2" stroke-dasharray="6.44 2.6" stroke-dashoffset="-8.3"/>
<!-- red regions -->
<line x1="305.6" y1="7.0" x2="302" y2="218.2" stroke="#ff2a2a" stroke-opacity="0.66" stroke-width="2.1"/>
<line x1="358.3" y1="7.0" x2="358.3" y2="218.2" stroke="#ff2a2a" stroke-opacity="0.66" stroke-width="2.1"/>
<!-- dashed verticals -->
<line x1="81.8" y1="7.0" x2="81.8" y2="218.2" stroke="#666" stroke-width="0.7" stroke-dasharray="5.2 3.91" stroke-dashoffset="2.41"/>
<line x1="194.2" y1="7.0" x2="194.2" y2="218.2" stroke="#666" stroke-width="0.7" stroke-dasharray="5.2 3.91" stroke-dashoffset="2.41"/>
</g>
<!-- axes -->
<g stroke="#808080" stroke-width="0.85" fill="none">
<line x1="65.8" y1="7.0" x2="65.8" y2="218.2"/>
<line x1="65.8" y1="218.2" x2="408.0" y2="218.2"/>
<line x1="65.8" y1="218.50" x2="70.0" y2="218.50"/><line x1="65.8" y1="212.47" x2="68.3" y2="212.47"/><line x1="65.8" y1="206.44" x2="68.3" y2="206.44"/><line x1="65.8" y1="200.41" x2="68.3" y2="200.41"/><line x1="65.8" y1="194.38" x2="68.3" y2="194.38"/><line x1="65.8" y1="188.35" x2="70.0" y2="188.35"/><line x1="65.8" y1="182.32" x2="68.3" y2="182.32"/><line x1="65.8" y1="176.29" x2="68.3" y2="176.29"/><line x1="65.8" y1="170.26" x2="68.3" y2="170.26"/><line x1="65.8" y1="164.23" x2="68.3" y2="164.23"/><line x1="65.8" y1="158.20" x2="70.0" y2="158.20"/><line x1="65.8" y1="152.17" x2="68.3" y2="152.17"/><line x1="65.8" y1="146.14" x2="68.3" y2="146.14"/><line x1="65.8" y1="140.11" x2="68.3" y2="140.11"/><line x1="65.8" y1="134.08" x2="68.3" y2="134.08"/><line x1="65.8" y1="128.05" x2="70.0" y2="128.05"/><line x1="65.8" y1="122.02" x2="68.3" y2="122.02"/><line x1="65.8" y1="115.99" x2="68.3" y2="115.99"/><line x1="65.8" y1="109.96" x2="68.3" y2="109.96"/><line x1="65.8" y1="103.93" x2="68.3" y2="103.93"/><line x1="65.8" y1="97.90" x2="70.0" y2="97.90"/><line x1="65.8" y1="91.87" x2="68.3" y2="91.87"/><line x1="65.8" y1="85.84" x2="68.3" y2="85.84"/><line x1="65.8" y1="79.81" x2="68.3" y2="79.81"/><line x1="65.8" y1="73.78" x2="68.3" y2="73.78"/><line x1="65.8" y1="67.75" x2="70.0" y2="67.75"/><line x1="65.8" y1="61.72" x2="68.3" y2="61.72"/><line x1="65.8" y1="55.69" x2="68.3" y2="55.69"/><line x1="65.8" y1="49.66" x2="68.3" y2="49.66"/><line x1="65.8" y1="43.63" x2="68.3" y2="43.63"/><line x1="65.8" y1="37.60" x2="70.0" y2="37.60"/><line x1="65.8" y1="31.57" x2="68.3" y2="31.57"/><line x1="65.8" y1="25.54" x2="68.3" y2="25.54"/><line x1="65.8" y1="19.51" x2="68.3" y2="19.51"/><line x1="65.8" y1="13.48" x2="68.3" y2="13.48"/><line x1="65.8" y1="7.45" x2="70.0" y2="7.45"/>
<line x1="66.10" y1="218.2" x2="66.10" y2="215.7"/><line x1="108.80" y1="218.2" x2="108.80" y2="214.0"/><line x1="151.50" y1="218.2" x2="151.50" y2="215.7"/><line x1="194.20" y1="218.2" x2="194.20" y2="214.0"/><line x1="236.90" y1="218.2" x2="236.90" y2="215.7"/><line x1="279.60" y1="218.2" x2="279.60" y2="214.0"/><line x1="322.30" y1="218.2" x2="322.30" y2="215.7"/><line x1="365.00" y1="218.2" x2="365.00" y2="214.0"/><line x1="407.70" y1="218.2" x2="407.70" y2="215.7"/>
</g>
<g class="sans" font-size="11" fill="#666" opacity="0.999">
<text x="62.3" y="10.4" text-anchor="end">0.005</text><text x="62.3" y="40.6" text-anchor="end">0.004</text><text x="62.3" y="70.7" text-anchor="end">0.003</text><text x="62.3" y="100.9" text-anchor="end">0.002</text><text x="62.3" y="131.0" text-anchor="end">0.001</text><text x="62.3" y="161.2" text-anchor="end">0.000</text><text x="62.3" y="191.3" text-anchor="end">−0.001</text><text x="62.3" y="221.5" text-anchor="end">−0.002</text>
<text x="93.5" y="234.3" letter-spacing="0.3">10<tspan dx="0.4" dy="-4.4" font-size="9.3" letter-spacing="0">−10</tspan></text><text x="181.6" y="234.3" letter-spacing="0.3">10<tspan dx="0.4" dy="-4.4" font-size="9.3" letter-spacing="0">−8</tspan></text><text x="267.0" y="234.3" letter-spacing="0.3">10<tspan dx="0.4" dy="-4.4" font-size="9.3" letter-spacing="0">−6</tspan></text><text x="352.4" y="234.3" letter-spacing="0.3">10<tspan dx="0.4" dy="-4.4" font-size="9.3" letter-spacing="0">−4</tspan></text>
</g>
<!-- labels -->
<g class="serif" fill="#111" opacity="0.999">
<text transform="translate(85.8,11.7) rotate(90)" font-size="13.5">d<tspan font-size="10.3" dy="2.2">D</tspan><tspan dy="-2.2"> ≤</tspan><tspan dx="-2"> 10</tspan><tspan font-size="10.3" dy="-4.3" letter-spacing="0.6">−16</tspan><tspan dy="4.3" dx="-0.4">e fm</tspan></text>
<text transform="translate(198.3,11) rotate(90)" font-size="13.5">d<tspan font-size="10.3" dy="2.2">Ra</tspan><tspan dy="-2.2" dx="-2"> ≤</tspan><tspan dx="-1.2"> 10</tspan><tspan font-size="10.3" dy="-4.3" letter-spacing="0.4">−14</tspan><tspan dy="4.3" dx="-0.6">e fm</tspan></text>
<text x="198.4" y="112.2" font-size="12">Re(ϵ′/ϵ)<tspan font-size="9.8" dy="2.5">expt.</tspan></text>
<text x="203.6" y="154.3" font-size="12">Re(ϵ′/ϵ)<tspan font-size="10.3" dy="2.5">th.</tspan></text>
<text x="316" y="54" font-size="12">d<tspan font-size="9.5" dy="2.5">n</tspan></text>
<text x="366.3" y="54" font-size="12">ϵ<tspan font-size="9.5" dy="2.5">K</tspan></text>
</g>
<g class="serif" fill="#6a6a6a" opacity="0.999">
<text x="210.6" y="259" font-size="17.4" letter-spacing="0.45">Im(<tspan font-style="italic">ξ</tspan><tspan font-size="12.4" dy="3">ud</tspan><tspan dy="-3">)</tspan></text>
<text transform="translate(15.3,140.4) rotate(-90)" font-size="17.3" letter-spacing="0.4">Re(ϵ′/ϵ)</text>
</g>
</svg>
</body></html>
